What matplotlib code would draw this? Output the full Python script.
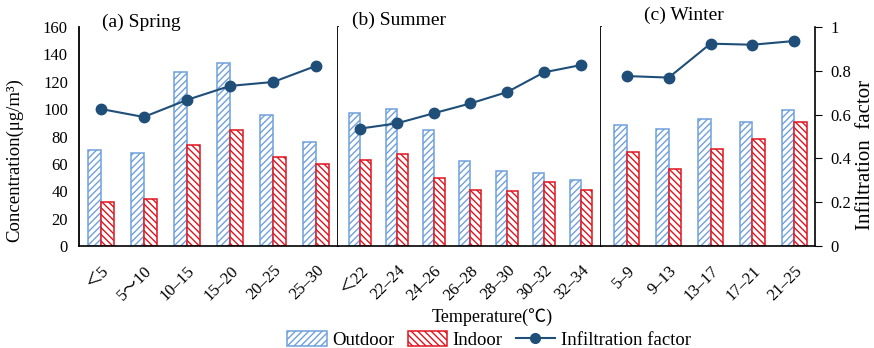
import numpy as np
import matplotlib
matplotlib.use("Agg")
import matplotlib.pyplot as plt
from matplotlib.patches import Patch
from matplotlib.lines import Line2D

plt.rcParams['font.family'] = ['Liberation Serif', 'Noto Sans CJK SC', 'DejaVu Sans']
plt.rcParams['hatch.linewidth'] = 1.0

# data
spring_cats = ["＜5", "5〜10", "10–15", "15–20", "20–25", "25–30"]
spring_out = [70, 68, 127, 134, 96, 76]
spring_in = [32, 34, 74, 85, 65, 60]
spring_if = [0.626, 0.589, 0.667, 0.731, 0.749, 0.823]

summer_cats = ["＜22", "22–24", "24–26", "26–28", "28–30", "30–32", "32–34"]
summer_out = [97, 100, 84.5, 62, 55, 53, 48.5]
summer_in = [63, 67, 50, 41, 40, 46.5, 41]
summer_if = [0.536, 0.560, 0.606, 0.651, 0.703, 0.793, 0.826]

winter_cats = ["5–9", "9–13", "13–17", "17–21", "21–25"]
winter_out = [88.5, 85.5, 93, 90.5, 99]
winter_in = [69, 56.5, 71, 78.5, 90.5]
winter_if = [0.776, 0.769, 0.924, 0.919, 0.936]

OUT_C = "#6fa0dc"
IN_C = "#e0141e"
LINE_C = "#1f4e79"

W, H = 874, 348
fig = plt.figure(figsize=(W / 100, H / 100), dpi=100)

def px(x0, x1):
    return x0 / W, (x1 - x0) / W

bottom = (H - 246) / H
height = (246 - 27) / H

panels = [
    (spring_cats, spring_out, spring_in, spring_if, 79, 338, (-0.5, 5.5), "(a) Spring", 141, 22),
    (summer_cats, summer_out, summer_in, summer_if, 338, 601, (-0.6, 6.55), "(b) Summer", 399, 20),
    (winter_cats, winter_out, winter_in, winter_if, 601, 815, (-0.62, 4.5), "(c) Winter", 684, 15),
]

bw = 0.3
for i, (cats, out, ind, inf, x0, x1, xl, title, tx, ty) in enumerate(panels):
    l, w = px(x0, x1)
    ax = fig.add_axes([l, bottom, w, height])
    x = np.arange(len(cats))
    ax.bar(x - bw / 2, out, bw, facecolor="white", edgecolor=OUT_C, hatch="/////", linewidth=1.1)
    ax.bar(x + bw / 2, ind, bw, facecolor="white", edgecolor=IN_C, hatch="\\\\\\\\\\", linewidth=1.1)
    ax.set_xlim(*xl)
    ax.set_ylim(0, 160)
    ax.set_xticks(x)
    ax.set_xticklabels(cats, rotation=45, ha="right", rotation_mode="anchor", fontsize=12)
    ax.tick_params(axis="x", length=0, pad=12)
    ax.spines["top"].set_visible(False)
    ax.spines["bottom"].set_linewidth(1.2)
    ax.spines["right"].set_linewidth(1.3)
    if i == 0:
        ax.set_yticks(np.arange(0, 161, 20))
        ax.tick_params(axis="y", length=0, pad=8, labelsize=12)
        ax.spines["left"].set_linewidth(1.3)
    else:
        ax.set_yticks([])
        ax.spines["left"].set_visible(False)

    ax2 = ax.twinx()
    ax2.plot(x, inf, color=LINE_C, lw=1.5, marker="o", ms=7.5)
    ax2.set_ylim(0, 1)
    ax2.set_xlim(*xl)
    for s in ["top", "left", "bottom"]:
        ax2.spines[s].set_visible(False)
    if i == 2:
        ax.spines["right"].set_visible(False)
        ax2.spines["right"].set_linewidth(1.2)
        ax2.set_yticks(np.arange(0, 1.01, 0.2))
        ax2.set_yticklabels(["0", "0.2", "0.4", "0.6", "0.8", "1"])
        ax2.tick_params(axis="y", direction="out", length=5, pad=6, labelsize=12)
    else:
        ax2.spines["right"].set_visible(False)
        ax2.set_yticks([])

    fig.text(tx / W, 1 - ty / H, title, ha="center", va="center", fontsize=14)

fig.text(15 / W, 1 - 160 / H, "Concentration(μg/m³)", rotation=90, ha="center", va="center", fontsize=13.5)
fig.text(866 / W, 1 - 155 / H, "Infiltration  factor", rotation=90, ha="center", va="center", fontsize=15)
fig.text(492 / W, 1 - 317 / H, "Temperature(℃)", ha="center", va="center", fontsize=13)

handles = [
    Patch(facecolor="white", edgecolor=OUT_C, hatch="/////", linewidth=1.1),
    Patch(facecolor="white", edgecolor=IN_C, hatch="\\\\\\\\\\", linewidth=1.1),
    Line2D([], [], color=LINE_C, lw=1.5, marker="o", ms=7),
]
fig.legend(handles, ["Outdoor", "Indoor", "Infiltration factor"], loc="center",
           bbox_to_anchor=(489 / W, 1 - 340 / H), ncol=3, frameon=False, fontsize=13.5,
           handlelength=2.1, handleheight=0.8, handletextpad=0.3, columnspacing=0.7,
           borderpad=0)

fig.savefig("out.png", dpi=100)
